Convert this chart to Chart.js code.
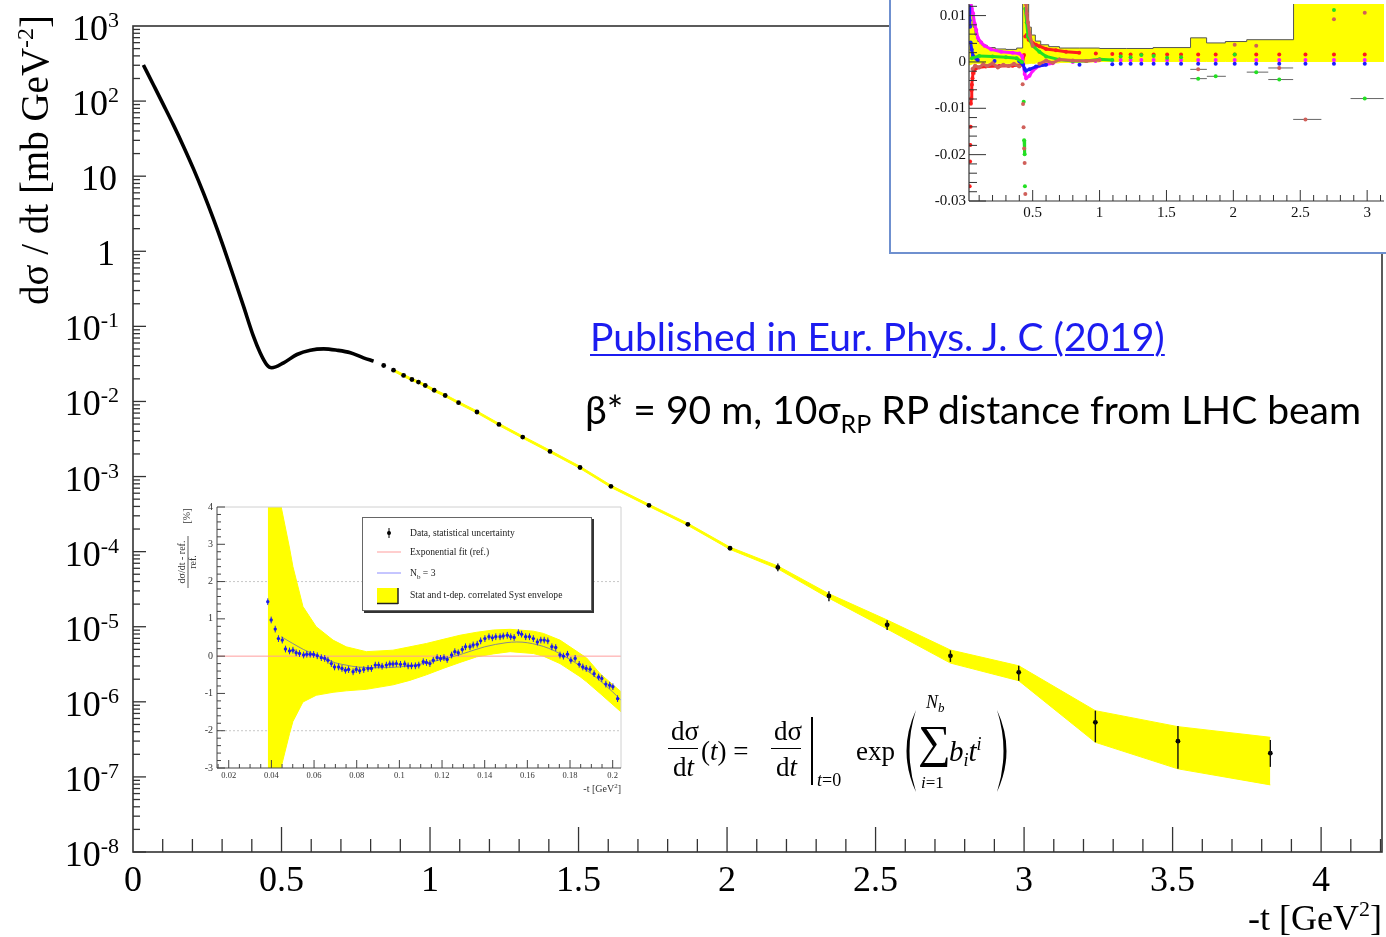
<!DOCTYPE html>
<html>
<head>
<meta charset="utf-8">
<title>Elastic pp differential cross-section, 13 TeV</title>
<script src="https://cdn.jsdelivr.net/npm/chart.js@4.4.1/dist/chart.umd.min.js"></script>
<style>
  html, body { margin: 0; padding: 0; background: #fff; }
  #page { position: relative; width: 1386px; height: 937px; overflow: hidden; }
  #page canvas { position: absolute; }
  .txt { position: absolute; white-space: nowrap; line-height: 1; }
  #pub { left: 590px; top: 313px; font: 39px Lato, sans-serif; color: #1c1cf0;
         text-decoration: underline; text-decoration-thickness: 2px; text-underline-offset: 3px; }
  #beta { left: 585px; top: 386px; font: 39px Lato, sans-serif; color: #000; }
  #beta sub { font-size: 25px; vertical-align: baseline; position: relative; top: 9px; }
  #formula { position: absolute; left: 0; top: 0; width: 1386px; height: 937px; font-family: "Liberation Serif", serif; color: #000; }
  #formula .bar { position: absolute; background: #000; }
  #lowLegend { position: absolute; left: 362px; top: 517px; width: 228px; height: 92px;
               border: 1px solid #666; box-shadow: 2px 2px 0 #333; background: #fff;
               font: 9.6px "Liberation Serif", serif; color: #222; }
  #lowLegend .lbl { position: absolute; left: 47px; height: 12px; line-height: 12px; white-space: nowrap; }
  #lowLegend .lbl sub { font-size: 7px; }
  #sysBox { position: absolute; left: 889px; top: -10px; width: 520px; height: 260px;
            border: 2px solid #6f90cf; background: #fff; overflow: hidden; }
</style>
</head>
<body>
<div id="page">
  <canvas id="main" width="1386" height="937" style="left:0;top:0"></canvas>

  <a id="pub" class="txt" href="#">Published in Eur. Phys. J. C (2019)</a>
  <div id="beta" class="txt">β* = 90 m, 10σ<sub>RP</sub> RP distance from LHC beam</div>

  <div id="formula"></div>

  <canvas id="lowt" width="460" height="300" style="left:170px;top:500px"></canvas>
  <div id="lowLegend">
    <div class="lbl" style="top:9px">Data, statistical uncertainty</div>
    <div class="lbl" style="top:28px">Exponential fit (ref.)</div>
    <div class="lbl" style="top:49px">N<sub>b</sub> = 3</div>
    <div class="lbl" style="top:71px">Stat and t-dep. correlated Syst envelope</div>
  </div>

  <div id="sysBox"><canvas id="sys" width="497" height="252" style="left:0;top:8px"></canvas></div>
</div>

<script>
// ---------- main panel: dsigma/dt [mb/GeV^2] vs |t| [GeV^2] ----------
const curveT = [0.035, 0.069, 0.103, 0.136, 0.170, 0.204, 0.237, 0.271, 0.304, 0.338, 0.372, 0.405,
                0.428, 0.450, 0.467, 0.507, 0.552, 0.597, 0.642, 0.687, 0.732, 0.776, 0.810];
const curveV = [303, 164, 88.5, 48.2, 24.9, 12.4, 5.98, 2.67, 1.16, 0.468, 0.186, 0.0746,
                0.0445, 0.031, 0.0281, 0.0327, 0.0422, 0.0481, 0.0502, 0.0481, 0.0445, 0.0381, 0.0344];

// high-|t| bins shown as separate points
const ptT = [0.844, 0.877, 0.911, 0.939, 0.961, 0.984, 1.014, 1.051, 1.096, 1.158, 1.232, 1.312, 1.404,
             1.505, 1.609, 1.737, 1.868, 2.010, 2.171, 2.343, 2.539, 2.752, 2.982, 3.240, 3.518, 3.829];
const ptV = [0.0301, 0.0261, 0.0222, 0.0196, 0.0181, 0.0163, 0.0141, 0.0120, 0.00962, 0.00724, 0.00494,
             0.00335, 0.00216, 0.00132, 7.41e-4, 4.14e-4, 2.31e-4, 1.11e-4, 6.17e-5, 2.57e-5, 1.06e-5,
             4.10e-6, 2.47e-6, 5.33e-7, 2.99e-7, 2.07e-7];
const errHi = [null, null, null, null, null, null, null, null, null, null, null, null, null,
               null, null, null, null, null, 6.97e-5, 2.97e-5, 1.22e-5, 4.84e-6, 3.02e-6, 7.62e-7, 4.76e-7, 3.10e-7];
const errLo = [null, null, null, null, null, null, null, null, null, null, null, null, null,
               null, null, null, null, null, 5.50e-5, 2.19e-5, 9.02e-6, 3.40e-6, 1.91e-6, 2.89e-7, 1.28e-7, 1.36e-7];

// systematic envelope (yellow)
const bandT  = [0.877, 0.911, 0.939, 0.961, 0.984, 1.014, 1.051, 1.096, 1.158, 1.232, 1.312, 1.404, 1.505,
                1.609, 1.737, 1.868, 2.010, 2.171, 2.343, 2.539, 2.752, 2.982, 3.240, 3.518, 3.829];
const bandHi = [0.0270, 0.0230, 0.0203, 0.0187, 0.0169, 0.0146, 0.0124, 0.00996, 0.00749, 0.00511, 0.00347,
                0.00224, 0.00137, 7.67e-4, 4.28e-4, 2.39e-4, 1.15e-4, 6.45e-5, 2.75e-5, 1.23e-5, 4.90e-6,
                3.02e-6, 7.62e-7, 4.67e-7, 3.37e-7];
const bandLo = [0.0252, 0.0214, 0.0189, 0.0175, 0.0157, 0.0136, 0.0116, 0.00929, 0.00700, 0.00477, 0.00324,
                0.00209, 0.00128, 7.16e-4, 4.00e-4, 2.23e-4, 1.07e-4, 5.90e-5, 2.40e-5, 9.33e-6, 3.28e-6,
                1.91e-6, 2.89e-7, 1.28e-7, 7.83e-8];

const xTickLabels = ['0', '0.5', '1', '1.5', '2', '2.5', '3', '3.5', '4'];
const yDecades = [3, 2, 1, 0, -1, -2, -3, -4, -5, -6, -7, -8];

// ---------- low-|t| inset: (dsigma/dt - ref) / ref [%] ----------
const lowT = [0.0383, 0.0399, 0.0418, 0.0433, 0.0451, 0.0466, 0.0485, 0.0501, 0.0516, 0.0532, 0.0551, 0.0566,
              0.0582, 0.0598, 0.0615, 0.0634, 0.0650, 0.0665, 0.0681, 0.0696, 0.0715, 0.0731, 0.0747, 0.0762,
              0.0783, 0.0798, 0.0814, 0.0833, 0.0853, 0.0869, 0.0887, 0.0903, 0.0919, 0.0939, 0.0955, 0.0970,
              0.0986, 0.1005, 0.1025, 0.1041, 0.1057, 0.1075, 0.1091, 0.1112, 0.1127, 0.1143, 0.1159, 0.1177,
              0.1193, 0.1209, 0.1224, 0.1245, 0.1260, 0.1276, 0.1295, 0.1310, 0.1331, 0.1346, 0.1365, 0.1381,
              0.1401, 0.1420, 0.1436, 0.1452, 0.1472, 0.1487, 0.1506, 0.1522, 0.1538, 0.1558, 0.1573, 0.1592,
              0.1610, 0.1628, 0.1647, 0.1663, 0.1679, 0.1696, 0.1715, 0.1733, 0.1753, 0.1769, 0.1788, 0.1804,
              0.1824, 0.1843, 0.1860, 0.1876, 0.1894, 0.1913, 0.1934, 0.1949, 0.1968, 0.1986, 0.2001, 0.2023];
const lowV = [1.46, 0.97, 0.725, 0.47, 0.43, 0.19, 0.14, 0.16, 0.09, 0.07, 0.03, 0.05,
              0.05, 0.045, 0.01, -0.04, -0.06, -0.11, -0.2, -0.29, -0.29, -0.33, -0.38, -0.36,
              -0.42, -0.36, -0.39, -0.36, -0.33, -0.33, -0.24, -0.24, -0.27, -0.24, -0.21, -0.21,
              -0.2, -0.22, -0.21, -0.26, -0.26, -0.26, -0.24, -0.15, -0.17, -0.2, -0.11, -0.04,
              -0.06, -0.04, -0.09, 0.03, 0.12, 0.09, 0.18, 0.25, 0.25, 0.3, 0.32, 0.41,
              0.47, 0.52, 0.49, 0.52, 0.52, 0.54, 0.56, 0.52, 0.5, 0.63, 0.59, 0.52,
              0.52, 0.47, 0.38, 0.43, 0.43, 0.41, 0.25, 0.23, 0.03, 0.0, 0.05, -0.11,
              -0.06, -0.22, -0.29, -0.33, -0.35, -0.47, -0.56, -0.6, -0.75, -0.78, -0.82, -1.14];
const lowErr = 0.09;
const lowFitT = [0.0446, 0.05, 0.055, 0.06, 0.065, 0.07, 0.075, 0.08, 0.09, 0.1, 0.11, 0.12, 0.13, 0.14,
                 0.15, 0.155, 0.16, 0.17, 0.18, 0.19, 0.2, 0.2039];
const lowFitV = [0.52, 0.34, 0.18, 0.05, -0.06, -0.18, -0.24, -0.29, -0.31, -0.29, -0.21, -0.09, 0.07, 0.25,
                 0.36, 0.38, 0.36, 0.21, -0.09, -0.47, -0.96, -1.18];
const envT  = [0.0383, 0.0446, 0.0485, 0.0501, 0.0548, 0.061, 0.0689, 0.0751, 0.0845, 0.097, 0.1049, 0.1127,
               0.1205, 0.1284, 0.1362, 0.144, 0.1519, 0.1628, 0.1675, 0.1753, 0.1847, 0.1878, 0.1941, 0.204];
const envHi = [9, 4.0, 2.9, 2.4, 1.33, 0.79, 0.43, 0.25, 0.12, 0.16, 0.25, 0.34,
               0.45, 0.56, 0.64, 0.70, 0.72, 0.67, 0.61, 0.43, 0.07, -0.05, -0.47, -0.96];
const envLo = [-9, -2.97, -2.08, -1.75, -1.23, -1.05, -0.97, -0.93, -0.89, -0.77, -0.65, -0.5,
               -0.33, -0.17, -0.02, 0.06, 0.12, 0.07, 0.0, -0.2, -0.55, -0.69, -1.0, -1.5];
const lowXRange = [0.0145, 0.2039];
const lowYTicks = ['4', '3', '2', '1', '0', '-1', '-2', '-3'];
const lowXTicks = ['0.02', '0.04', '0.06', '0.08', '0.1', '0.12', '0.14', '0.16', '0.18', '0.2'];

// ---------- systematic-effect panel: relative shifts vs |t| ----------
const sysT  = [0.025, 0.035, 0.045, 0.055, 0.07, 0.09, 0.12, 0.16, 0.22, 0.30, 0.38, 0.425, 0.47, 0.49,
               0.52, 0.56, 0.62, 0.70, 0.85, 1.0, 1.2, 1.4, 1.68, 1.80, 1.94, 2.10, 2.45, 3.2];
const sysHi = [0.03, 0.016, 0.0105, 0.0075, 0.0058, 0.0044, 0.0036, 0.0031, 0.0028, 0.0027, 0.0030, 0.03,
               0.0075, 0.0058, 0.0045, 0.0037, 0.0033, 0.0030, 0.0030, 0.0029, 0.0029, 0.0031, 0.0052,
               0.0041, 0.0044, 0.0048, 0.03, 0.03];
const sysLo = [-0.0006, -0.0005, -0.0004, -0.0003, -0.0003, -0.0003, -0.0003, -0.0003, -0.0003, -0.0003,
               -0.0003, -0.0004, -0.0003, -0.0003, -0.0002, -0.0002, -0.0002, -0.0001, 0, 0.0001, 0.0001,
               0.0001, 0.0001, 0.0001, 0.0001, 0.0001, 0.0001, 0.0001];
const lateT = [1.158, 1.232, 1.312, 1.404, 1.505, 1.609, 1.737, 1.868, 2.010, 2.171, 2.343, 2.539, 2.752, 2.982];
const redT = [0.029, 0.032, 0.034, 0.036, 0.038, 0.041, 0.043, 0.046, 0.05, 0.054, 0.061, 0.074, 0.09, 0.15,
              0.25, 0.35, 0.42, 0.435, 0.445, 0.455, 0.47, 0.5, 0.525, 0.55, 0.6, 0.674, 0.749, 0.848,
              0.972, 1.095, ...lateT];
const redV = [-0.0268, -0.0215, -0.0179, -0.014, -0.009, -0.0079, -0.0061, -0.0049, -0.0035, -0.0024,
              -0.0019, -0.0014, -0.0012, -0.001, -0.0009, -0.0008, -0.0006, 0.0015, 0.0055, 0.0058, 0.0048,
              0.0041, 0.0037, 0.0034, 0.0028, 0.0025, 0.0022, 0.002, 0.0018, 0.0017,
              0.0017, 0.0016, 0.0016, 0.0016, 0.0016, 0.0016, 0.0016, 0.0016, 0.0016, 0.0016, 0.0016,
              0.0016, 0.0016, 0.0016];
const magT = [0.028, 0.035, 0.045, 0.054, 0.066, 0.078, 0.09, 0.115, 0.14, 0.19, 0.265, 0.35, 0.4, 0.42,
              0.43, 0.44, 0.451, 0.476, 0.5, 0.55, 0.65, 0.8, 0.97, 1.095, ...lateT];
const magV = [0.016, 0.013, 0.0115, 0.0105, 0.0083, 0.0069, 0.0052, 0.0042, 0.0035, 0.0027, 0.0022, 0.002,
              0.0018, 0.0013, -0.0006, -0.0026, -0.0035, -0.003, -0.0019, -0.0008, -0.0003, 0, 0.0002,
              0.0003, 0.0004, 0.0004, 0.0004, 0.0004, 0.0004, 0.0004, 0.0004, 0.0004, 0.0004, 0.0004,
              0.0004, 0.0004, 0.0004, 0.0004];
const bluT = [0.025, 0.029, 0.032, 0.036, 0.044, 0.054, 0.078, 0.09, 0.215, 0.4, 0.426, 0.44, 0.45, 0.476,
              0.525, 0.6, 0.85, 1.095, ...lateT];
const bluV = [0.0119, 0.009, 0.0076, 0.0042, 0.0027, 0.0013, 0.0007, 0.0004, 0.0002, 0.00015, -0.0005,
              -0.0015, -0.0019, -0.0016, -0.001, -0.0006, -0.0006, -0.0005, -0.0004, -0.0004, -0.0004,
              -0.0004, -0.0004, -0.0004, -0.0004, -0.0004, -0.0004, -0.0004, -0.0004, -0.0004, -0.0004, -0.0004];
const grnT = [0.045, 0.1, 0.2, 0.3, 0.38, 0.42, 0.433, 0.436, 0.44, 0.442, 0.445, 0.455, 0.465, 0.5, 0.55,
              0.6, 0.7, 0.8, 0.9, 1.0, 1.095, 1.158, 1.232, 1.312, 1.404, 1.505, 1.609, 1.737, 1.868, 2.010,
              2.171, 2.343, 2.752, 2.982];
const grnV = [0.0008, 0.0013, 0.0012, 0.001, 0.0008, 0.0, -0.0086, -0.0169, -0.0199, -0.0268, 0.0115,
              0.0085, 0.0055, 0.0035, 0.0022, 0.0012, 0.0005, 0.0002, 0.0002, 0.0006, 0.0004, 0.0012, 0.001,
              0.0015, 0.0013, 0.0009, 0.001, -0.0036, -0.0031, 0.0016, -0.0022, -0.0038, 0.0112, -0.0079];
const salT = [0.05, 0.07, 0.1, 0.13, 0.16, 0.2, 0.24, 0.28, 0.32, 0.36, 0.4, 0.425, 0.428, 0.432, 0.436,
              0.44, 0.445, 0.45, 0.455, 0.465, 0.48, 0.5, 0.55, 0.6, 0.65, 0.7, 0.8, 0.9, 1.0, 1.737,
              2.010, 2.171, 2.343, 2.539, 2.752, 2.982];
const salV = [-0.0015, -0.0008, -0.0012, -0.0005, -0.0009, -0.0003, -0.0012, -0.0006, -0.0009, -0.0004,
              -0.001, -0.0048, -0.0091, -0.0141, -0.0187, -0.0218, -0.0285, 0.0125, 0.0105, 0.0085, 0.0057,
              0.0035, -0.0004, 0.0003, -0.0002, 0.0005, 0.0003, 0.0002, 0.0004, -0.0016, 0.0037, 0.0035,
              -0.0013, -0.0124, 0.0092, 0.0106];
const sysBinEdges = [1.678, 1.802, 1.944, 2.1, 2.261, 2.447, 2.658, 2.876, 3.124];
const sysXRange = [0.024, 3.126];
const sysYTicks = ['0.01', '0', '-0.01', '-0.02', '-0.03'];
const sysXTicks = ['0.5', '1', '1.5', '2', '2.5', '3'];

const SERIF = '"Liberation Serif", "Times New Roman", serif';

function pts(ts, vs) { return ts.map((t, i) => ({ x: t, y: vs[i] })); }

function line(ctx, x1, y1, x2, y2) {
  ctx.beginPath(); ctx.moveTo(x1, y1); ctx.lineTo(x2, y2); ctx.stroke();
}

// text made of runs with their own size and vertical shift, aligned as a whole
function richText(ctx, runs, x, y, align) {
  let w = 0;
  runs.forEach(r => { ctx.font = r.size + 'px ' + SERIF; r.w = ctx.measureText(r.t).width; w += r.w; });
  let cx = align === 'right' ? x - w : align === 'center' ? x - w / 2 : x;
  ctx.textAlign = 'left';
  runs.forEach(r => { ctx.font = r.size + 'px ' + SERIF; ctx.fillText(r.t, cx, y + (r.dy || 0)); cx += r.w; });
}

const mainAxes = {
  id: 'mainAxes',
  afterDatasetsDraw(chart) {
    const { ctx, scales: { x, y } } = chart;
    ctx.save();
    ctx.strokeStyle = '#111';
    ctx.lineWidth = 1.4;
    ptT.forEach((t, i) => {
      if (errHi[i] == null) return;
      const px = x.getPixelForValue(t);
      line(ctx, px, y.getPixelForValue(errHi[i]), px, y.getPixelForValue(errLo[i]));
    });
    ctx.restore();
  },
  afterDraw(chart) {
    const { ctx, chartArea: a, scales: { x, y } } = chart;
    ctx.save();
    ctx.strokeStyle = '#333';
    ctx.lineWidth = 1.6;
    ctx.strokeRect(a.left, a.top, a.right - a.left, a.bottom - a.top);

    ctx.lineWidth = 1.3;
    for (let e = -8; e < 3; e++) {
      for (let m = 1; m < 10; m++) {
        const py = y.getPixelForValue(m * Math.pow(10, e));
        line(ctx, a.left, py, a.left + (m === 1 ? 13 : 7), py);
      }
    }
    for (let k = 1; k <= 42; k++) {
      const px = x.getPixelForValue(k / 10);
      line(ctx, px, a.bottom, px, a.bottom - (k % 5 === 0 ? 25 : 13));
    }

    ctx.fillStyle = '#000';
    ctx.textBaseline = 'alphabetic';
    yDecades.forEach(e => {
      const py = y.getPixelForValue(Math.pow(10, e));
      if (e === 1) richText(ctx, [{ t: '10', size: 36 }], 117, py + 14, 'right');
      else if (e === 0) richText(ctx, [{ t: '1', size: 36 }], 115, py + 14, 'right');
      else richText(ctx, [{ t: '10', size: 36 }, { t: String(e), size: 22, dy: -13 }], 119, py + 14, 'right');
    });
    xTickLabels.forEach(lbl => {
      richText(ctx, [{ t: lbl, size: 36 }], x.getPixelForValue(parseFloat(lbl)), a.bottom + 39, 'center');
    });

    richText(ctx, [{ t: '-t [GeV', size: 36 }, { t: '2', size: 22, dy: -14 }, { t: ']', size: 36 }],
             a.right, a.bottom + 78, 'right');

    ctx.translate(48, 160);
    ctx.rotate(-Math.PI / 2);
    richText(ctx, [{ t: 'dσ / dt [mb GeV', size: 39 }, { t: '-2', size: 24, dy: -15 }, { t: ']', size: 39 }],
             0, 0, 'center');
    ctx.restore();
  }
};

new Chart(document.getElementById('main'), {
  type: 'scatter',
  data: {
    datasets: [
      { data: pts(bandT, bandHi), showLine: true, fill: '+1', backgroundColor: '#ffff00',
        borderColor: '#ffff00', borderWidth: 1, pointRadius: 0, order: 4 },
      { data: pts(bandT, bandLo), showLine: true, fill: false, borderColor: '#ffff00',
        borderWidth: 1, pointRadius: 0, order: 4 },
      { data: pts(curveT, curveV), showLine: true, borderColor: '#000', borderWidth: 3.6,
        pointRadius: 0, cubicInterpolationMode: 'monotone', order: 1 },
      { data: pts(ptT, ptV), showLine: false, pointRadius: 2.4, pointBackgroundColor: '#000',
        pointBorderWidth: 0, order: 0 }
    ]
  },
  options: {
    responsive: false, animation: false, devicePixelRatio: 1, events: [],
    layout: { padding: { left: 133, right: 3, top: 26, bottom: 85 } },
    plugins: { legend: { display: false }, tooltip: { enabled: false } },
    scales: {
      x: { type: 'linear', min: 0, max: 4.205, display: false },
      y: { type: 'logarithmic', min: 1e-8, max: 1e3, display: false }
    }
  },
  plugins: [mainAxes]
});

// ---------- low-|t| inset ----------
const lowAxes = {
  id: 'lowAxes',
  beforeDatasetsDraw(chart) {
    const { ctx, chartArea: a, scales: { y } } = chart;
    ctx.save();
    ctx.strokeStyle = '#c8c8c8';
    ctx.lineWidth = 1;
    ctx.setLineDash([2, 2]);
    [2, -2].forEach(v => line(ctx, a.left, y.getPixelForValue(v), a.right, y.getPixelForValue(v)));
    ctx.restore();
  },
  afterDatasetsDraw(chart) {
    const { ctx, scales: { x, y } } = chart;
    ctx.save();
    ctx.strokeStyle = '#2222ee';
    ctx.lineWidth = 1;
    lowT.forEach((t, i) => {
      const px = x.getPixelForValue(t);
      line(ctx, px, y.getPixelForValue(lowV[i] + lowErr), px, y.getPixelForValue(lowV[i] - lowErr));
    });
    ctx.restore();
  },
  afterDraw(chart) {
    const { ctx, chartArea: a, scales: { x, y } } = chart;
    ctx.save();
    ctx.strokeStyle = '#d0d0d0';
    ctx.lineWidth = 1;
    line(ctx, a.left, a.top, a.right, a.top);
    line(ctx, a.right, a.top, a.right, a.bottom);
    ctx.strokeStyle = '#444';
    line(ctx, a.left, a.top, a.left, a.bottom);
    line(ctx, a.left, a.bottom, a.right, a.bottom);
    for (let k = -15; k <= 20; k++) {
      const py = y.getPixelForValue(k / 5);
      line(ctx, a.left, py, a.left + (k % 5 === 0 ? 8 : 4), py);
    }
    for (let k = 3; k <= 40; k++) {
      const px = x.getPixelForValue(k * 0.005);
      line(ctx, px, a.bottom, px, a.bottom - (k % 4 === 0 ? 8 : 4));
    }
    ctx.fillStyle = '#333';
    ctx.textBaseline = 'middle';
    lowYTicks.forEach(l => richText(ctx, [{ t: l, size: 10 }], a.left - 4, y.getPixelForValue(parseFloat(l)), 'right'));
    ctx.textBaseline = 'alphabetic';
    lowXTicks.forEach(l => richText(ctx, [{ t: l, size: 8.5 }], x.getPixelForValue(parseFloat(l)), a.bottom + 10, 'center'));
    richText(ctx, [{ t: '-t [GeV', size: 10 }, { t: '2', size: 7, dy: -4 }, { t: ']', size: 10 }], a.right, a.bottom + 24, 'right');

    ctx.translate(18, 62);
    ctx.rotate(-Math.PI / 2);
    richText(ctx, [{ t: 'dσ/dt - ref.', size: 10 }], 0, -3, 'center');
    ctx.lineWidth = 0.8;
    ctx.strokeStyle = '#333';
    line(ctx, -26, 0, 26, 0);
    richText(ctx, [{ t: 'ref.', size: 10 }], 0, 8, 'center');
    richText(ctx, [{ t: '[%]', size: 10 }], 46, 2, 'center');
    ctx.restore();
  }
};

new Chart(document.getElementById('lowt'), {
  type: 'scatter',
  data: {
    datasets: [
      { data: pts(envT, envHi), showLine: true, fill: '+1', backgroundColor: '#ffff00',
        borderColor: '#ffff00', borderWidth: 1, pointRadius: 0, order: 5 },
      { data: pts(envT, envLo), showLine: true, fill: false, borderColor: '#ffff00',
        borderWidth: 1, pointRadius: 0, order: 5 },
      { data: [{ x: lowXRange[0], y: 0 }, { x: lowXRange[1], y: 0 }], showLine: true,
        borderColor: '#ff9d9d', borderWidth: 1, pointRadius: 0, order: 3 },
      { data: pts(lowFitT, lowFitV), showLine: true, borderColor: '#8a8a8a', borderWidth: 1,
        pointRadius: 0, cubicInterpolationMode: 'monotone', order: 2 },
      { data: pts(lowT, lowV), showLine: false, pointRadius: 1.7, pointBackgroundColor: '#1a1aee',
        pointBorderWidth: 0, order: 1 }
    ]
  },
  options: {
    responsive: false, animation: false, devicePixelRatio: 1, events: [],
    layout: { padding: { left: 47, right: 9, top: 7, bottom: 32 } },
    plugins: { legend: { display: false }, tooltip: { enabled: false } },
    scales: {
      x: { type: 'linear', min: lowXRange[0], max: lowXRange[1], display: false },
      y: { type: 'linear', min: -3, max: 4, display: false }
    }
  },
  plugins: [lowAxes]
});

// legend markers for the inset
(function () {
  const c = document.createElement('canvas');
  c.width = 40; c.height = 92;
  c.style.cssText = 'position:absolute;left:0;top:0';
  document.getElementById('lowLegend').appendChild(c);
  const g = c.getContext('2d');
  g.fillStyle = '#000';
  g.beginPath(); g.arc(26, 15, 2, 0, Math.PI * 2); g.fill();
  g.strokeStyle = '#000'; g.lineWidth = 1;
  line(g, 26, 10, 26, 20);
  g.strokeStyle = '#ff9d9d'; line(g, 14, 34, 38, 34);
  g.strokeStyle = '#8c8cff'; line(g, 14, 55, 38, 55);
  g.fillStyle = '#ffff00'; g.fillRect(14, 70, 21, 15);
  g.strokeStyle = '#222'; g.lineWidth = 1.5;
  line(g, 35, 70, 35, 86); line(g, 14, 85.5, 35, 85.5);
})();

// ---------- systematic-effect panel ----------
// dense runs are joined into a thick trace, the sparse high-|t| bins stay as single markers
function cloud(ts, vs, color, order) {
  const clear = 'rgba(0,0,0,0)';
  return {
    data: pts(ts, vs), showLine: true, borderColor: color, borderWidth: 3, order,
    segment: {
      borderColor: c => (ts[c.p1DataIndex] > 1.12 ||
        Math.hypot(c.p1.x - c.p0.x, c.p1.y - c.p0.y) > 14) ? clear : color
    },
    pointRadius: 2, pointBackgroundColor: color, pointBorderWidth: 0
  };
}

const sysAxes = {
  id: 'sysAxes',
  beforeDatasetsDraw(chart) {
    const { ctx, scales: { x, y } } = chart;
    ctx.save();
    ctx.strokeStyle = '#666';
    ctx.lineWidth = 1;
    [[grnT, grnV], [salT, salV]].forEach(([ts, vs]) => {
      ts.forEach((t, i) => {
        for (let b = 0; b < sysBinEdges.length - 1; b++) {
          if (t >= sysBinEdges[b] && t < sysBinEdges[b + 1]) {
            const py = y.getPixelForValue(vs[i]);
            line(ctx, x.getPixelForValue(sysBinEdges[b]), py, x.getPixelForValue(sysBinEdges[b + 1]), py);
          }
        }
      });
    });
    ctx.restore();
  },
  afterDraw(chart) {
    const { ctx, chartArea: a, scales: { x, y } } = chart;
    ctx.save();
    ctx.strokeStyle = '#333';
    ctx.lineWidth = 1.2;
    line(ctx, a.left, a.top, a.left, a.bottom);
    line(ctx, a.left, a.bottom, a.right, a.bottom);
    ctx.lineWidth = 1;
    for (let k = -15; k <= 6; k++) {
      const py = y.getPixelForValue(k * 0.002);
      line(ctx, a.left, py, a.left + (k % 5 === 0 ? 17 : 8), py);
    }
    for (let k = 1; k <= 31; k++) {
      const px = x.getPixelForValue(k / 10);
      line(ctx, px, a.bottom, px, a.bottom - (k % 5 === 0 ? 11 : 6));
    }
    ctx.fillStyle = '#111';
    ctx.textBaseline = 'middle';
    sysYTicks.forEach(l => richText(ctx, [{ t: l, size: 15 }], a.left - 3, y.getPixelForValue(parseFloat(l)), 'right'));
    ctx.textBaseline = 'alphabetic';
    sysXTicks.forEach(l => richText(ctx, [{ t: l, size: 15 }], x.getPixelForValue(parseFloat(l)), a.bottom + 16, 'center'));
    ctx.restore();
  }
};

new Chart(document.getElementById('sys'), {
  type: 'scatter',
  data: {
    datasets: [
      { data: pts(sysT, sysHi), showLine: true, stepped: 'before', fill: '+1', backgroundColor: '#ffff00',
        borderColor: '#555', borderWidth: 1, pointRadius: 0, order: 10 },
      { data: pts(sysT, sysLo), showLine: true, stepped: 'before', fill: false, borderColor: '#ffff00',
        borderWidth: 1, pointRadius: 0, order: 10 },
      cloud(redT, redV, '#ff1c1c', 5),
      cloud(magT, magV, '#ff14ff', 4),
      cloud(bluT, bluV, '#1c1cff', 3),
      cloud(grnT, grnV, '#22e022', 2),
      cloud(salT, salV, '#d0605a', 1)
    ]
  },
  options: {
    responsive: false, animation: false, devicePixelRatio: 1, events: [],
    layout: { padding: { left: 78, right: 0, top: 0, bottom: 51 } },
    plugins: { legend: { display: false }, tooltip: { enabled: false } },
    scales: {
      x: { type: 'linear', min: sysXRange[0], max: sysXRange[1], display: false },
      y: { type: 'linear', min: -0.03, max: 0.0125, display: false }
    }
  },
  plugins: [sysAxes]
});

// ---------- parametrisation formula ----------
(function () {
  const box = document.getElementById('formula');
  // places a run so that its baseline lands on `base` (Liberation Serif, line-height 1)
  function put(html, left, base, size) {
    const d = document.createElement('div');
    d.className = 'txt';
    d.style.cssText = 'left:' + left + 'px;top:' + (base - 0.8375 * size) + 'px;font-size:' + size + 'px;';
    d.innerHTML = html;
    box.appendChild(d);
  }
  function bar(left, top, w, h) {
    const d = document.createElement('div');
    d.className = 'bar';
    d.style.cssText = 'left:' + left + 'px;top:' + top + 'px;width:' + w + 'px;height:' + h + 'px';
    box.appendChild(d);
  }
  put('dσ', 671, 741, 27);
  bar(668, 748, 30, 1.4);
  put('d<i>t</i>', 673, 777, 27);
  put('(<i>t</i>) =', 701, 761, 27);
  put('dσ', 774, 741, 27);
  bar(771, 748, 30, 1.4);
  put('d<i>t</i>', 776, 777, 27);
  bar(811, 717, 1.6, 68);
  put('<i>t</i>=0', 817, 786, 18);
  put('exp', 856, 761, 27);
  put('<i>N<span style="font-size:13px;position:relative;top:4px">b</span></i>', 926, 708, 18);
  put('∑', 918, 758, 46);
  put('<i>i</i>=1', 921, 788, 17);
  put('<i>b<span style="font-size:18px;position:relative;top:5px">i</span>t<span style="font-size:18px;position:relative;top:-11px">i</span></i>', 949, 761, 29);
  const svg = document.createElementNS('http://www.w3.org/2000/svg', 'svg');
  svg.setAttribute('width', '1386'); svg.setAttribute('height', '937');
  svg.style.cssText = 'position:absolute;left:0;top:0';
  svg.innerHTML =
    '<path d="M916,710 Q897,751 916,792 Q903,751 916,710 Z" fill="#000"/>' +
    '<path d="M997,710 Q1016,751 997,792 Q1010,751 997,710 Z" fill="#000"/>';
  box.appendChild(svg);
})();
</script>
</body>
</html>
